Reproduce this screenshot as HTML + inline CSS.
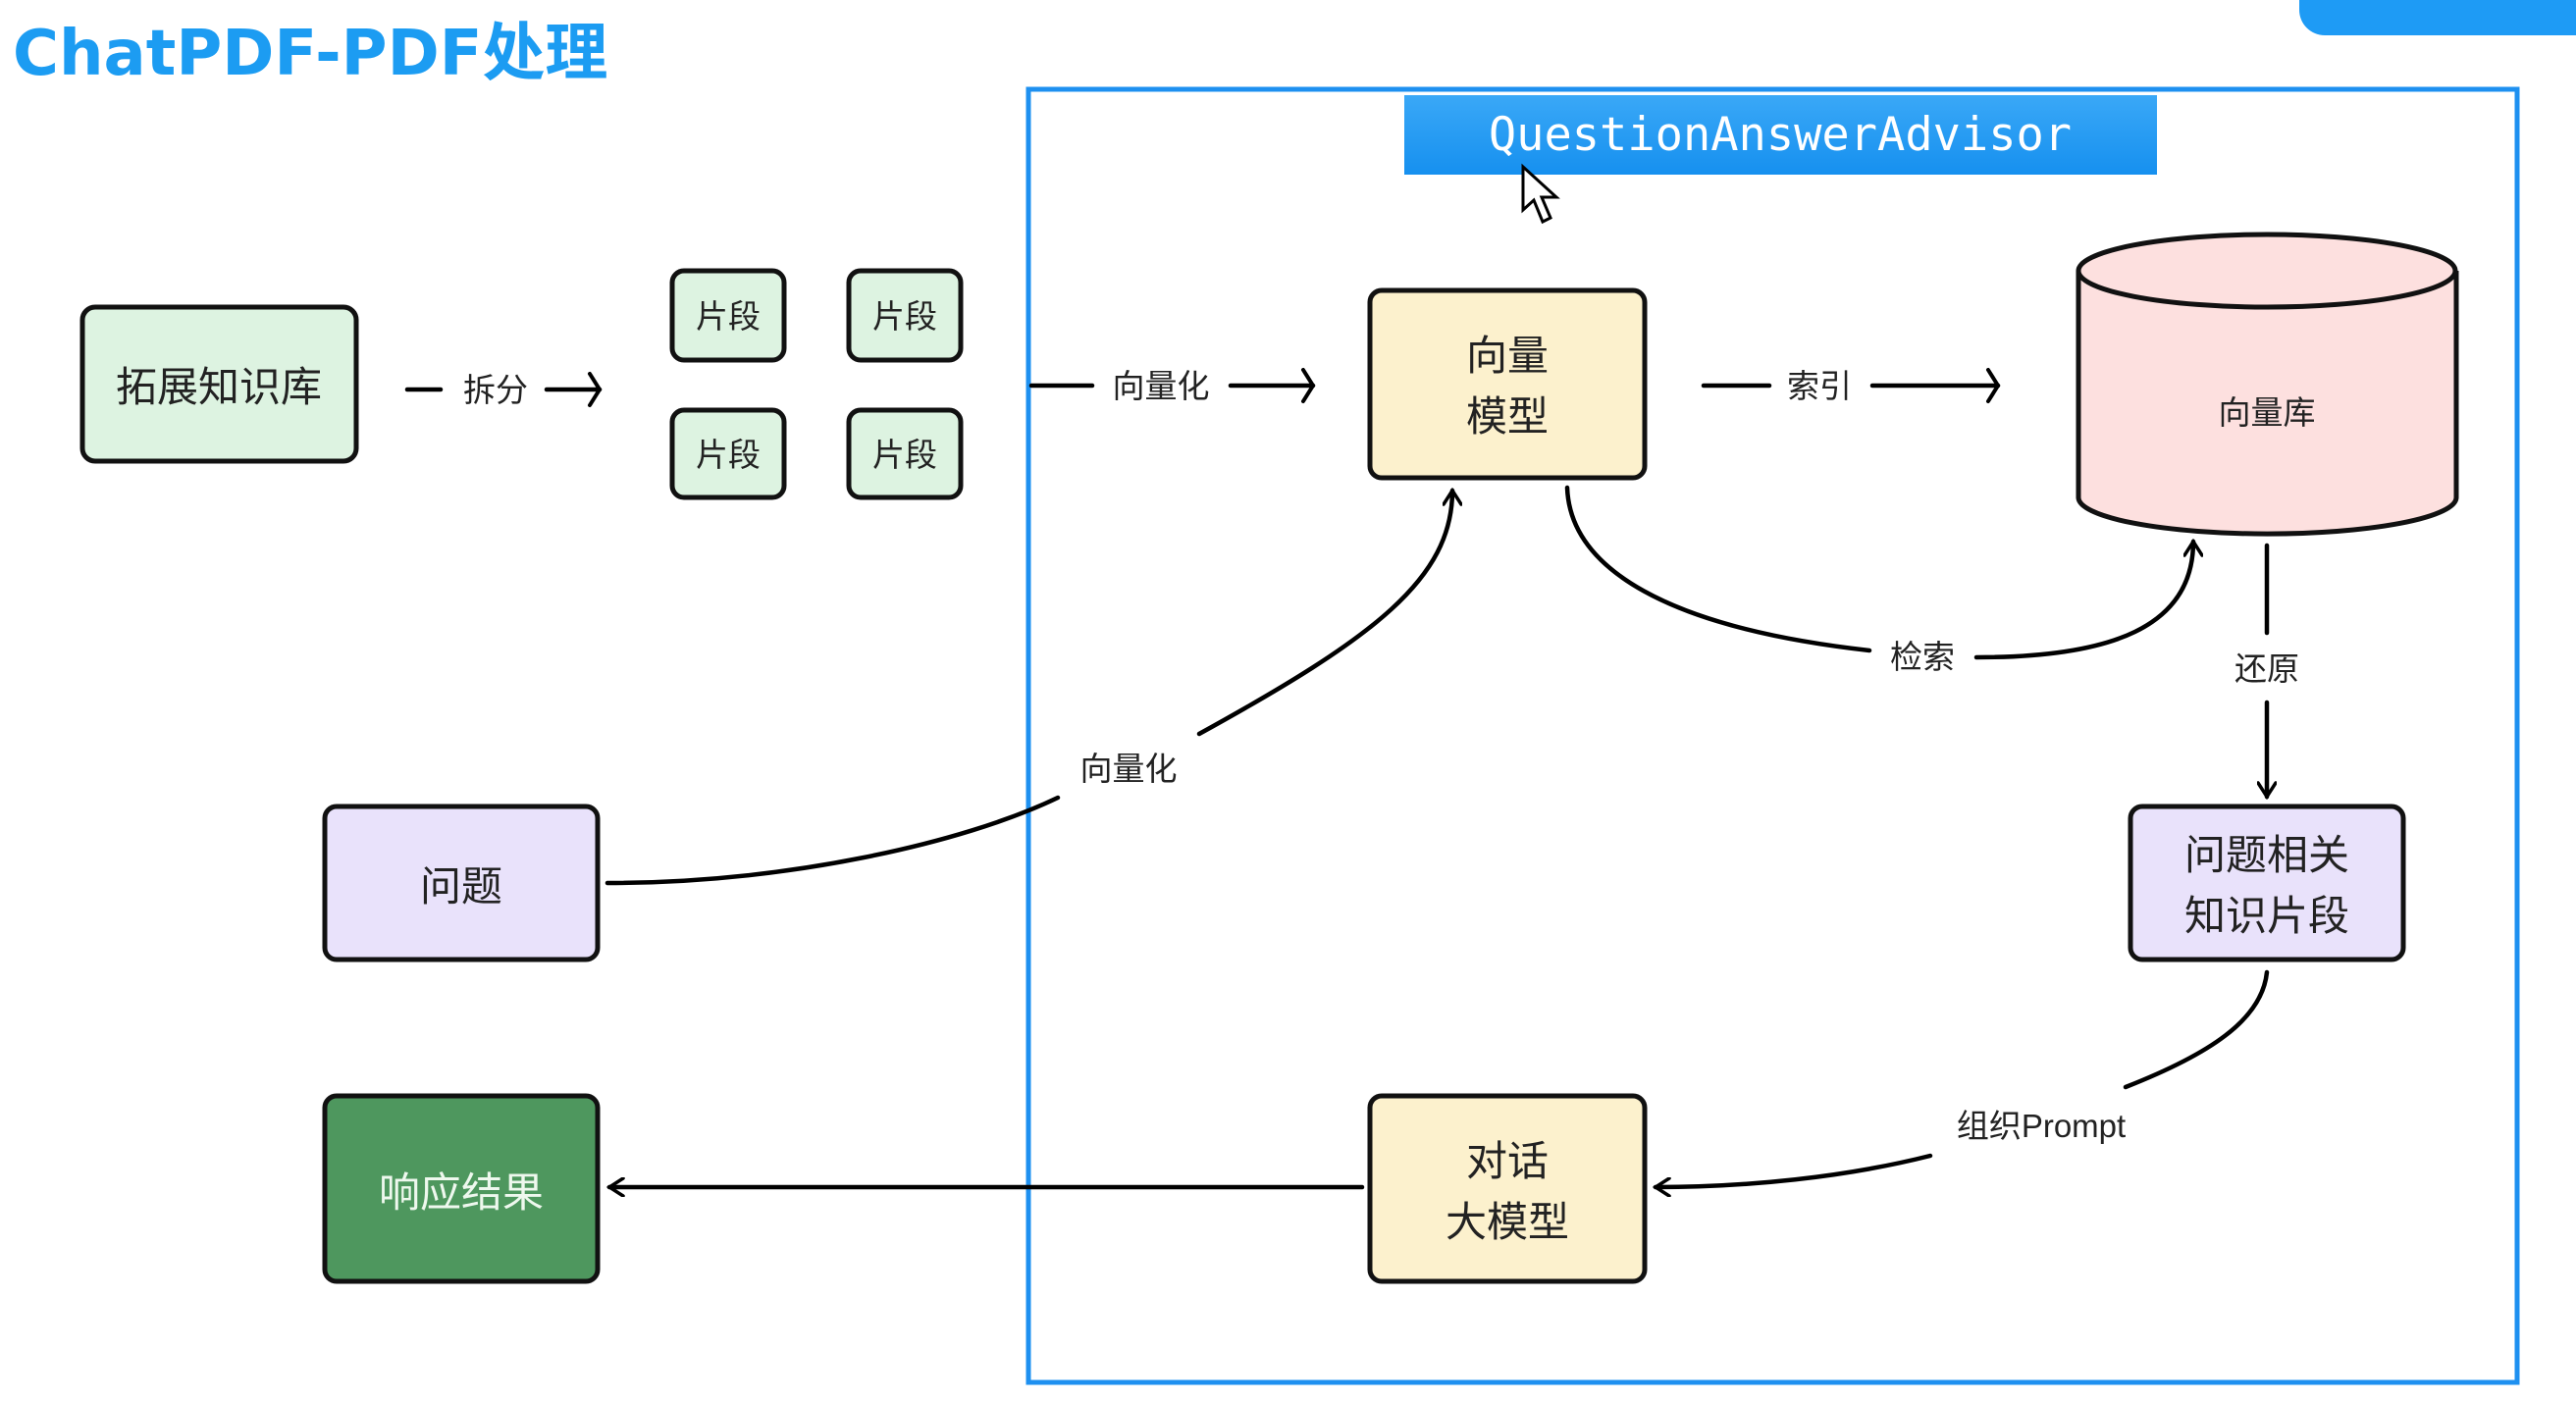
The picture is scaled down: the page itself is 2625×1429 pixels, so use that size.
<!DOCTYPE html>
<html><head><meta charset="utf-8"><style>
html,body{margin:0;padding:0;background:#fff;}
svg{display:block;}
text{font-family:"Liberation Sans","Noto Sans CJK SC",sans-serif;fill:#222;}
</style></head><body>
<svg width="2625" height="1429" viewBox="0 0 2625 1429" xmlns="http://www.w3.org/2000/svg">
<defs>
<marker id="ar" viewBox="0 0 20 20" refX="17" refY="10" markerWidth="20" markerHeight="20" markerUnits="userSpaceOnUse" orient="auto">
<path d="M3 1 L17 10 L3 19" fill="none" stroke="#000" stroke-width="3.5" stroke-linecap="round"/>
</marker>
<marker id="ar2" viewBox="0 0 40 40" refX="34" refY="20" markerWidth="40" markerHeight="40" markerUnits="userSpaceOnUse" orient="auto">
<path d="M24 4 L34 20 L24 36" fill="none" stroke="#000" stroke-width="4" stroke-linecap="round"/>
</marker>
<linearGradient id="hg" x1="0" y1="0" x2="0" y2="1">
<stop offset="0" stop-color="#3aa8f7"/><stop offset="1" stop-color="#1690ef"/>
</linearGradient>
</defs>
<rect x="2343" y="-30" width="320" height="66" rx="26" fill="#1e9bf5"/>
<text x="13" y="76" font-size="64" font-weight="bold" style="fill:#1c9cf2;font-family:'DejaVu Sans','Noto Sans CJK SC',sans-serif">ChatPDF-PDF处理</text>

<rect x="1048" y="91" width="1517" height="1318" fill="none" stroke="#1e90f0" stroke-width="5"/>
<rect x="1431" y="97" width="767" height="81" fill="url(#hg)"/>
<text x="1814" y="153" font-size="47" text-anchor="middle" style="fill:#fff;font-family:'DejaVu Sans Mono','Liberation Mono',monospace">QuestionAnswerAdvisor</text>
<path d="M1552 170 L1552 214 L1563 204 L1572 226 L1580 222 L1571 201 L1586 201 Z" fill="#fff" stroke="#000" stroke-width="3"/>

<g stroke="#111" stroke-width="5">
<rect x="84" y="313" width="279" height="157" rx="13" fill="#ddf3e1"/>
<rect x="685" y="276" width="114" height="91" rx="12" fill="#ddf3e1"/>
<rect x="865" y="276" width="114" height="91" rx="12" fill="#ddf3e1"/>
<rect x="685" y="418" width="114" height="89" rx="12" fill="#ddf3e1"/>
<rect x="865" y="418" width="114" height="89" rx="12" fill="#ddf3e1"/>
<rect x="1396" y="296" width="280" height="191" rx="12" fill="#fcf1cd"/>
<rect x="2171" y="822" width="278" height="156" rx="12" fill="#e9e2fb"/>
<rect x="331" y="822" width="278" height="156" rx="12" fill="#e9e2fb"/>
<rect x="1396" y="1117" width="280" height="189" rx="12" fill="#fcf1cd"/>
<rect x="331" y="1117" width="278" height="189" rx="12" fill="#4e975e"/>
<path d="M2118 276 L2118 507 A192 37 0 0 0 2503 507 L2503 276" fill="#fde0df"/>
<ellipse cx="2310" cy="276" rx="192" ry="37" fill="#fde0df"/>
</g>
<text x="223" y="409" font-size="42" text-anchor="middle">拓展知识库</text>
<g font-size="33" text-anchor="middle">
<text x="742" y="334">片段</text><text x="922" y="334">片段</text>
<text x="742" y="475">片段</text><text x="922" y="475">片段</text>
</g>
<g font-size="42" text-anchor="middle">
<text x="1536" y="377">向量</text><text x="1536" y="439">模型</text>
<text x="2310" y="886">问题相关</text><text x="2310" y="948">知识片段</text>
<text x="470" y="918">问题</text>
<text x="1536" y="1198">对话</text><text x="1536" y="1260">大模型</text>
<text x="470" y="1230" style="fill:#eef8ee">响应结果</text>
</g>
<text x="2310" y="432" font-size="33" text-anchor="middle">向量库</text>

<g fill="none" stroke="#000" stroke-width="4.5" stroke-linecap="round">
<line x1="415" y1="397" x2="449" y2="397"/>
<line x1="557" y1="397" x2="611" y2="397" marker-end="url(#ar2)"/>
<line x1="1051" y1="393" x2="1113" y2="393"/>
<line x1="1254" y1="393" x2="1338" y2="393" marker-end="url(#ar2)"/>
<line x1="1736" y1="393" x2="1803" y2="393"/>
<line x1="1908" y1="393" x2="2036" y2="393" marker-end="url(#ar2)"/>
<path d="M1597 497 C1600 580 1700 640 1905 663"/>
<path d="M2014 670 C2150 670 2235 640 2235 552" marker-end="url(#ar)"/>
<line x1="2310" y1="556" x2="2310" y2="645"/>
<line x1="2310" y1="716" x2="2310" y2="812" marker-end="url(#ar)"/>
<path d="M619 900 C800 900 980 860 1078 813"/>
<path d="M1222 748 C1400 650 1480 590 1480 500" marker-end="url(#ar)"/>
<path d="M2310 991 C2305 1040 2250 1075 2166 1108"/>
<path d="M1967 1178 C1880 1200 1780 1210 1687 1210" marker-end="url(#ar)"/>
<line x1="1388" y1="1210" x2="621" y2="1210" marker-end="url(#ar)"/>
</g>
<g font-size="33" text-anchor="middle">
<text x="505" y="409">拆分</text>
<text x="1183" y="405">向量化</text>
<text x="1854" y="405">索引</text>
<text x="1959" y="681">检索</text>
<text x="2310" y="693">还原</text>
<text x="1150" y="795">向量化</text>
<text x="2080" y="1159">组织Prompt</text>
</g>
</svg>
</body></html>
